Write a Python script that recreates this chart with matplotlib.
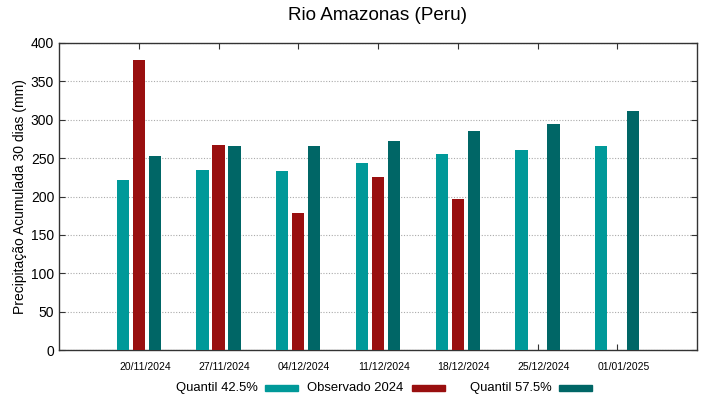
import matplotlib
matplotlib.use("Agg")
import matplotlib.pyplot as plt
import matplotlib.patches as mpatches
import matplotlib.transforms as mtransforms
import numpy as np

plt.rcParams['font.family'] = ['Liberation Sans', 'DejaVu Sans']

dates = ["20/11/2024", "27/11/2024", "04/12/2024", "11/12/2024", "18/12/2024", "25/12/2024", "01/01/2025"]
q425 = [221, 234, 233, 244, 256, 260, 266]
obs2024 = [378, 267, 179, 226, 197, np.nan, np.nan]
q575 = [253, 266, 266, 272, 285, 294, 311]

series_names = ["Quantil 42.5%", "Observado 2024", "Quantil 57.5%"]
colors = ["#009999", "#990f0f", "#006666"]

fig = plt.figure(figsize=(7.19, 3.99), dpi=100)
ax = fig.add_axes([59/719, 1-350/399, (697-59)/719, (350-43)/399])

x = np.arange(len(dates))
w = 0.155
for off, vals, c in zip([-0.2, 0, 0.2], [q425, obs2024, q575], colors):
    ax.bar(x + off, vals, width=w, color=c, zorder=3)

ax.set_xlim(-1, 7)
ax.set_ylim(0, 400)
ax.set_yticks(np.arange(0, 401, 50))
ax.set_xticks(x)
ax.set_xticklabels(dates, fontsize=7.5)
ax.tick_params(axis='x', direction='in', top=True, length=4, pad=9, color='#333333')
ax.tick_params(axis='y', direction='in', right=True, length=4, labelsize=10, color='#333333')
shift = mtransforms.ScaledTranslation(6/100, 0, fig.dpi_scale_trans)
for lbl in ax.get_xticklabels():
    lbl.set_transform(lbl.get_transform() + shift)
ax.yaxis.grid(True, linestyle=(0, (1, 1.5)), color='#aaaaaa', linewidth=0.8, zorder=0)
for s in ax.spines.values():
    s.set_color('#333333')
    s.set_linewidth(1.0)

ax.set_ylabel("Precipitação Acumulada 30 dias (mm)", fontsize=10, labelpad=3)
fig.text(378/719, 1-15/399, "Rio Amazonas (Peru)", ha='center', va='center', fontsize=13.6)

# legend (gnuplot style: text then sample)
ly = 1 - 388/399
items = [(258, 265), (403, 412), (552, 559)]
for (txt_right, patch_left), name, c in zip(items, series_names, colors):
    fig.text(txt_right/719, ly, name, ha='right', va='center', fontsize=9.4)
    fig.patches.append(mpatches.Rectangle((patch_left/719, ly - 3/399), 33/719, 6/399,
                                          transform=fig.transFigure, color=c, figure=fig))

fig.savefig("out.png", dpi=100)
